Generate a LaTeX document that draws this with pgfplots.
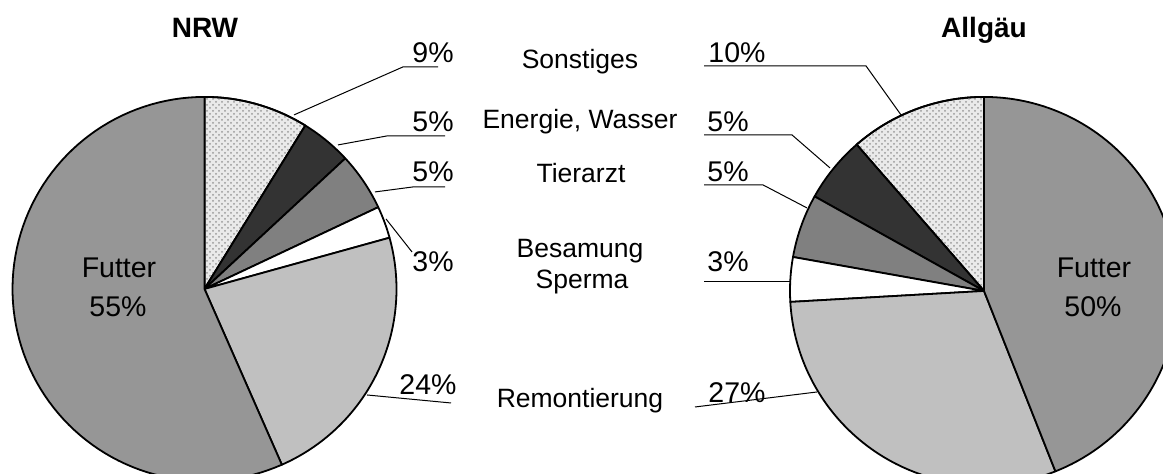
\documentclass[border=0pt]{standalone}
\usepackage{fontspec}
\setmainfont{Liberation Sans}
\usepackage{pgfplots}
\pgfplotsset{compat=1.18}
\usetikzlibrary{patterns}

\definecolor{cFutter}{HTML}{969696}
\definecolor{cRemont}{HTML}{C0C0C0}
\definecolor{cTier}{HTML}{808080}
\definecolor{cEnergie}{HTML}{333333}
\definecolor{cSonst}{HTML}{EAEAEA}

% #1 cx, #2 cy, #3 r, #4 direction (1 clockwise, -1 counter), #5 start %, #6 end %, #7 style
\newcommand{\slice}[7]{%
 \addplot[#7, draw=black, line width=0.9pt, line join=round, domain={3.6*#5}:{3.6*#6}, samples=90]
 ({#1+#4*#3*sin(x)}, {#2-#3*cos(x)}) -- (axis cs:#1,#2) -- cycle;}
\newcommand{\lbl}{\fontsize{13.25}{16}\selectfont}
\newcommand{\pct}{\fontsize{14.25}{16}\selectfont}
\newcommand{\ttl}{\fontsize{14}{16}\selectfont\bfseries}

\begin{document}
\begin{tikzpicture}
\begin{axis}[
  at={(0,0)}, anchor=south west,
  width=581.5pt, height=237pt, scale only axis,
  xmin=0, xmax=1163, ymin=0, ymax=474, y dir=reverse,
  hide axis, clip=true]

% NRW: Sonstiges 8.8, Energie 4.3, Tierarzt 4.9, Besamung 2.7, Remontierung 22.7, Futter 56.6
\slice{204.5}{289}{192}{1}{0}{8.8}{fill=cSonst, postaction={pattern=crosshatch dots, pattern color=black!40}}
\slice{204.5}{289}{192}{1}{8.8}{13.1}{fill=cEnergie}
\slice{204.5}{289}{192}{1}{13.1}{18.0}{fill=cTier}
\slice{204.5}{289}{192}{1}{18.0}{20.7}{fill=white}
\slice{204.5}{289}{192}{1}{20.7}{43.4}{fill=cRemont}
\slice{204.5}{289}{192}{1}{43.4}{100}{fill=cFutter}

% Allgaeu: Sonstiges 11.4, Energie 5.5, Tierarzt 5.3, Besamung 3.7, Remontierung 30.1, Futter 44.0
\slice{984}{291}{194}{-1}{0}{11.4}{fill=cSonst, postaction={pattern=crosshatch dots, pattern color=black!40}}
\slice{984}{291}{194}{-1}{11.4}{16.9}{fill=cEnergie}
\slice{984}{291}{194}{-1}{16.9}{22.2}{fill=cTier}
\slice{984}{291}{194}{-1}{22.2}{25.9}{fill=white}
\slice{984}{291}{194}{-1}{25.9}{56.0}{fill=cRemont}
\slice{984}{291}{194}{-1}{56.0}{100}{fill=cFutter}

% leader lines
\addplot[black, line width=0.5pt] coordinates {(294,115) (403,67) (438,67)};
\addplot[black, line width=0.5pt] coordinates {(338,145) (387,136) (445,136)};
\addplot[black, line width=0.5pt] coordinates {(375,192) (413,187) (445,187)};
\addplot[black, line width=0.5pt] coordinates {(386,219) (412,252)};
\addplot[black, line width=0.5pt] coordinates {(367,395) (451,403)};
\addplot[black, line width=0.5pt] coordinates {(704,66) (866,66) (901,115)};
\addplot[black, line width=0.5pt] coordinates {(704,135) (792,135) (830,168)};
\addplot[black, line width=0.5pt] coordinates {(704,185) (763,185) (807,208)};
\addplot[black, line width=0.5pt] coordinates {(704,282) (790,282)};
\addplot[black, line width=0.5pt] coordinates {(695,407) (817,392)};

% titles
\node[font=\ttl, anchor=base] at (axis cs:205,38) {NRW};
\node[font=\ttl, anchor=base] at (axis cs:984,38) {Allgäu};

% category labels
\node[font=\lbl, anchor=base] at (axis cs:580,69) {Sonstiges};
\node[font=\lbl, anchor=base] at (axis cs:580,129) {Energie, Wasser};
\node[font=\lbl, anchor=base] at (axis cs:581,183) {Tierarzt};
\node[font=\lbl, anchor=base] at (axis cs:580,258) {Besamung};
\node[font=\lbl, anchor=base] at (axis cs:582,289) {Sperma};
\node[font=\lbl, anchor=base] at (axis cs:580,408) {Remontierung};

% percentages NRW
\node[font=\pct, anchor=base] at (axis cs:433,63) {9\%};
\node[font=\pct, anchor=base] at (axis cs:433,132) {5\%};
\node[font=\pct, anchor=base] at (axis cs:433,182) {5\%};
\node[font=\pct, anchor=base] at (axis cs:433,272) {3\%};
\node[font=\pct, anchor=base] at (axis cs:428,395) {24\%};
\node[font=\pct, anchor=base] at (axis cs:119,278) {Futter};
\node[font=\pct, anchor=base] at (axis cs:118,317) {55\%};

% percentages Allgaeu
\node[font=\pct, anchor=base] at (axis cs:737,63) {10\%};
\node[font=\pct, anchor=base] at (axis cs:728,132) {5\%};
\node[font=\pct, anchor=base] at (axis cs:728,182) {5\%};
\node[font=\pct, anchor=base] at (axis cs:728,272) {3\%};
\node[font=\pct, anchor=base] at (axis cs:737,403) {27\%};
\node[font=\pct, anchor=base] at (axis cs:1094,278) {Futter};
\node[font=\pct, anchor=base] at (axis cs:1093,317) {50\%};
\end{axis}
\pgfresetboundingbox
\path (0,0) rectangle (581.5pt,237pt);
\end{tikzpicture}
\end{document}
